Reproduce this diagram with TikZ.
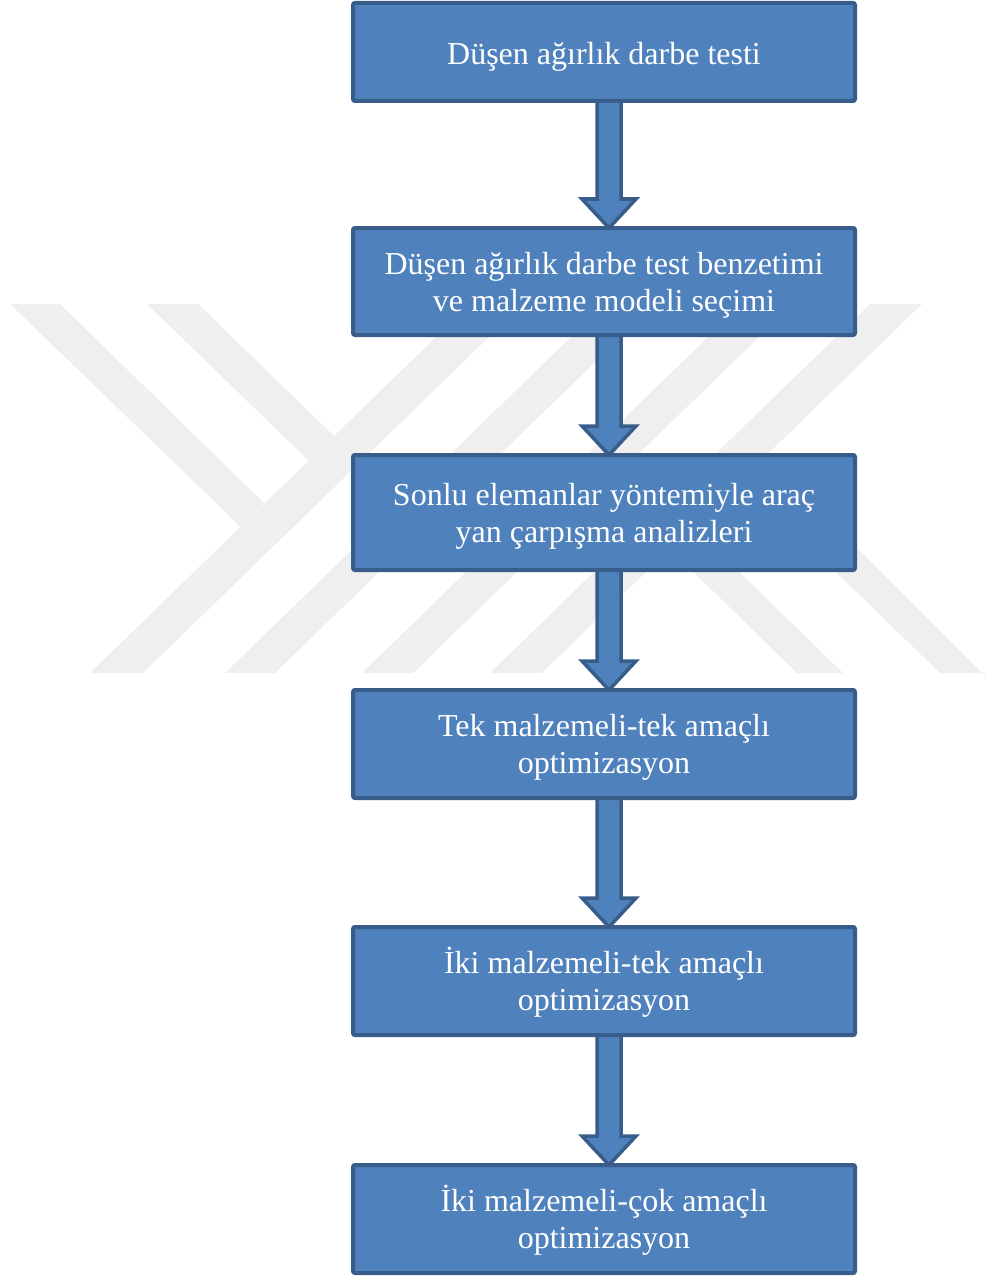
\documentclass[tikz,border=0pt]{standalone}
\usepackage{fontspec}
\setmainfont{Liberation Serif}
\usetikzlibrary{calc}

\definecolor{boxfill}{HTML}{4F81BD}
\definecolor{boxline}{HTML}{385D8A}
\definecolor{wmgray}{HTML}{EFEFEF}

\pgfdeclarelayer{wm}
\pgfdeclarelayer{arrows}
\pgfsetlayers{wm,arrows,main}

% struts that fix the height of the first line and the depth of the last one
\newcommand\firstln[1][30pt]{\rule{0pt}{#1}}
\newcommand\lastln{\rule[-8pt]{0pt}{8pt}}

\tikzset{
  stepbox/.style={draw=boxline, fill=boxfill, line width=4pt, rounded corners=2pt,
    minimum width=502pt, text=white, font=\fontsize{32}{37}\selectfont,
    align=center, inner sep=0pt, outer sep=0pt},
  flowarrow/.style={draw=boxline, fill=boxfill, line width=3.5pt, line join=miter},
  wmband/.style={fill=wmgray, draw=none}
}

% block arrow from the bottom of one box to the top of the next
\newcommand\blockarrow[2]{%
  \path[flowarrow] let \p1=(#1.south), \p2=(#2.north) in
    (\x1+5pt-12pt,\y1) -- (\x1+5pt-12pt,\y2+29pt) -- (\x1+5pt-27pt,\y2+29pt)
    -- (\x1+5pt,\y2) -- (\x1+5pt+27pt,\y2+29pt) -- (\x1+5pt+12pt,\y2+29pt)
    -- (\x1+5pt+12pt,\y1) -- cycle;}

\begin{document}
\begin{tikzpicture}[x=1pt,y=-1pt]
\useasboundingbox (0,0) rectangle (985,1276);

% process steps
\node[stepbox, minimum height=98pt]  (b1) at (604,52)    {\firstln[33pt]Düşen ağırlık darbe testi\lastln};
\node[stepbox, minimum height=107pt] (b2) at (604,281.5) {\firstln Düşen ağırlık darbe test benzetimi\\ve malzeme modeli seçimi\lastln};
\node[stepbox, minimum height=115pt] (b3) at (604,512.5) {\firstln Sonlu elemanlar yöntemiyle araç\\yan çarpışma analizleri\lastln};
\node[stepbox, minimum height=108pt] (b4) at (604,744)   {\firstln Tek malzemeli-tek amaçlı\\optimizasyon\lastln};
\node[stepbox, minimum height=108pt] (b5) at (604,981)   {\firstln İki malzemeli-tek amaçlı\\optimizasyon\lastln};
\node[stepbox, minimum height=108pt] (b6) at (604,1219)  {\firstln İki malzemeli-çok amaçlı\\optimizasyon\lastln};

\begin{pgfonlayer}{arrows}
  \blockarrow{b1}{b2}
  \blockarrow{b2}{b3}
  \blockarrow{b3}{b4}
  \blockarrow{b4}{b5}
  \blockarrow{b5}{b6}
\end{pgfonlayer}

% light striped emblem in the background
\begin{pgfonlayer}{wm}
  \fill[wmband] (90,673) -- (143,673) -- (523,304) -- (470,304) -- cycle;
  \fill[wmband] (225,673) -- (275,673) -- (655,304) -- (605,304) -- cycle;
  \fill[wmband] (362,673) -- (413,673) -- (793,304) -- (742,304) -- cycle;
  \fill[wmband] (490,673) -- (542,673) -- (922,304) -- (870,304) -- cycle;
  \fill[wmband] (10,304) -- (60,304) -- (264,503) -- (241,527) -- cycle;
  \fill[wmband] (147,304) -- (198,304) -- (334,436) -- (309,461) -- cycle;
  \fill[wmband] (797,673) -- (843,673) -- (693,527) -- (670,549) -- cycle;
  \fill[wmband] (940,673) -- (985,673) -- (985,676) -- (765,456) -- (741,480) -- cycle;
\end{pgfonlayer}
\end{tikzpicture}
\end{document}
